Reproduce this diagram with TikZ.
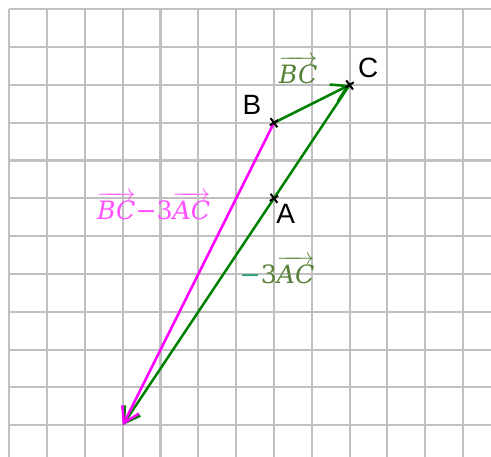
\documentclass[tikz,border=0pt]{standalone}
\usepackage{fontspec}
\setmainfont{Liberation Sans}
\newfontfamily\vecfont{DejaVu Serif}
\usepackage{amsmath}
\usetikzlibrary{arrows.meta}
\definecolor{gridgray}{RGB}{192,192,192}
\definecolor{vgreen}{RGB}{0,128,0}
\definecolor{vmag}{RGB}{255,0,255}
\definecolor{lgreen}{RGB}{85,130,55}
\definecolor{lteal}{RGB}{50,160,120}
\definecolor{lmag}{RGB}{255,80,255}
\newcommand{\vecit}[1]{\overrightarrow{\text{\vecfont\itshape #1}}}
\tikzset{
  gridline/.style={draw=gridgray, line width=1.6pt},
  vecline/.style={line width=1.9pt, -{Straight Barb[length=11.5pt,width=14pt,line width=1.9pt]}},
  ptlabel/.style={font=\fontsize{21}{25}\selectfont, inner sep=0pt},
  veclabel/.style={font=\fontsize{19}{23}\selectfont, inner sep=0pt, anchor=base},
  crossmark/.style={line width=1.5pt, black}
}
\begin{document}
\begin{tikzpicture}
\useasboundingbox (-0.246,0.246) rectangle (12.74,-11.82);
\clip (-0.246,0.246) rectangle (12.74,-11.82);
\draw[gridline] (0,0) grid (13,-12);
\coordinate (B) at (7,-3);
\coordinate (C) at (9,-2);
\coordinate (A) at (7,-5);
\coordinate (D) at (3,-11);
\draw[vecline, vgreen] (B) -- (C);
\draw[vecline, vgreen] (C) -- (D);
\draw[vecline, vmag] (B) -- (D);
\foreach \p in {A,B,C} {
  \draw[crossmark] ([shift={(-0.09,0.12)}]\p) -- ([shift={(0.09,-0.12)}]\p);
  \draw[crossmark] ([shift={(-0.11,-0.07)}]\p) -- ([shift={(0.11,0.07)}]\p);
}
\node[ptlabel] (lB) at (6.42,-2.52) {B};
\node[ptlabel] (lC) at (9.49,-1.55) {C};
\node[ptlabel] (lA) at (7.31,-5.42) {A};
\node[veclabel, text=lgreen] (lBC) at (7.64,-1.95) {$\vecit{BC}$};
\node[veclabel, text=lmag] (lBD) at (3.82,-5.55) {$\vecit{BC}\text{\vecfont{\char"2212}3}\vecit{AC}$};
\node[veclabel, text=lgreen] (lCD) at (7.08,-7.24) {$\text{\vecfont\textcolor{lteal}{\char"2212}3}\vecit{AC}$};
\end{tikzpicture}
\end{document}
